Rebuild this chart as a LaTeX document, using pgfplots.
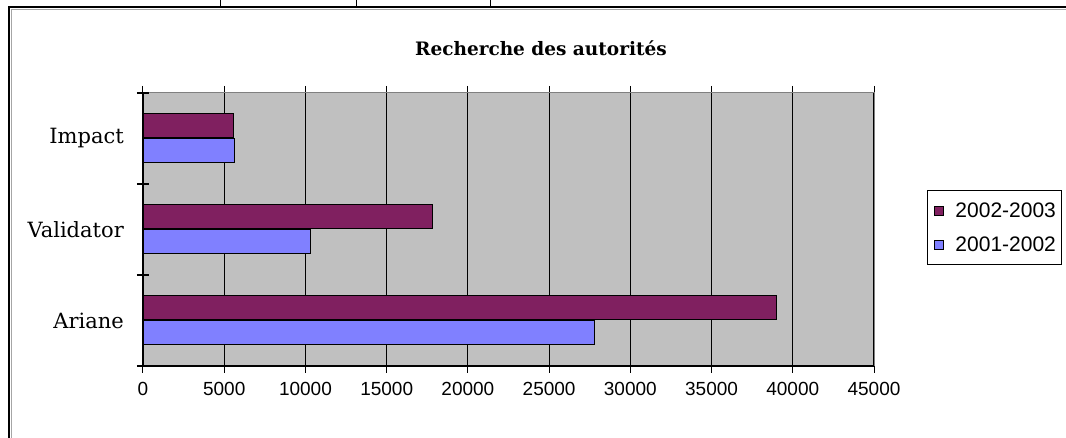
\documentclass[border=0pt]{standalone}
\usepackage{fontspec}
\setmainfont{DejaVu Serif}
\newfontfamily\sansf{Liberation Sans}
\usepackage{pgfplots}
\pgfplotsset{compat=1.18}
\definecolor{plum}{RGB}{128,32,96}
\definecolor{peri}{RGB}{128,128,255}
\definecolor{bgc}{RGB}{192,192,192}
\begin{document}
\begin{tikzpicture}[x=1pt,y=1pt]
\path[use as bounding box] (0,0) rectangle (1066,438);
\draw[line width=1pt] (220,431)--(220,438) (356,431)--(356,438) (490,431)--(490,438);
\draw[black!35, line width=1pt] (11.5,0)--(11.5,428.5)--(1066,428.5);
\draw[line width=2pt] (9,0)--(9,431)--(1066,431);
\node[font=\bfseries\fontsize{18.5}{22}\selectfont] at (541,390) {Recherche des autorités};
\begin{axis}[
  at={(143pt,72pt)}, anchor=south west,
  scale only axis, width=731pt, height=273pt,
  clip=false,
  xmin=0, xmax=45000, ymin=-0.5, ymax=2.5,
  axis background/.style={fill=bgc},
  axis line style={draw=black!50, line width=1pt},
  xtick={0,5000,...,45000},
  scaled x ticks=false,
  /pgf/number format/assume math mode=true,
  xticklabel style={font=\sansf\fontsize{19}{21}\selectfont, /pgf/number format/1000 sep={}, yshift=-6pt},
  xmajorgrids, major grid style={black, line width=1.2pt},
  tick align=outside, major tick length=7pt,
  xtick style={black, line width=1pt},
  ytick={0,1,2}, yticklabels={Ariane,Validator,Impact},
  ytick style={draw=none},
  yticklabel style={font=\fontsize{21}{23}\selectfont, inner sep=0pt, xshift=-12pt},
  legend style={at={(1.0725,0.6447)}, anchor=north west, draw=black, line width=1pt,
    font=\sansf\fontsize{21}{23}\selectfont, row sep=14pt, inner xsep=4pt, inner ysep=10pt},
  legend cell align=left,
  reverse legend,
]
\addplot[xbar, bar width=24pt, bar shift=-12.5pt, fill=peri, draw=black, line width=1pt,
  legend image code/.code={\draw[fill=peri,draw=black,line width=0.8pt] (2pt,-4.5pt) rectangle (11pt,4.5pt); \path (0pt,0pt) (21pt,0pt);}]
  coordinates {(27800,0) (10300,1) (5650,2)};
\addlegendentry{2001-2002}
\addplot[xbar, bar width=24pt, bar shift=12.5pt, fill=plum, draw=black, line width=1pt,
  legend image code/.code={\draw[fill=plum,draw=black,line width=0.8pt] (2pt,-4.5pt) rectangle (11pt,4.5pt); \path (0pt,0pt) (21pt,0pt);}]
  coordinates {(39000,0) (17800,1) (5550,2)};
\addlegendentry{2002-2003}
\draw[black, line width=1.3pt] (rel axis cs:0,1) -- (rel axis cs:0,0) -- (rel axis cs:1,0);
\draw[black, line width=1.3pt] (axis cs:0,0.5) ++(-6pt,0pt) -- ++(12pt,0pt);
\draw[black, line width=1.3pt] (axis cs:0,1.5) ++(-6pt,0pt) -- ++(12pt,0pt);
\draw[black, line width=1.3pt] (axis cs:0,2.5) ++(-6pt,0pt) -- ++(12pt,0pt);
\draw[black, line width=1.3pt] (axis cs:0,-0.5) ++(-6pt,0pt) -- ++(6pt,0pt);
\end{axis}
\end{tikzpicture}
\end{document}
